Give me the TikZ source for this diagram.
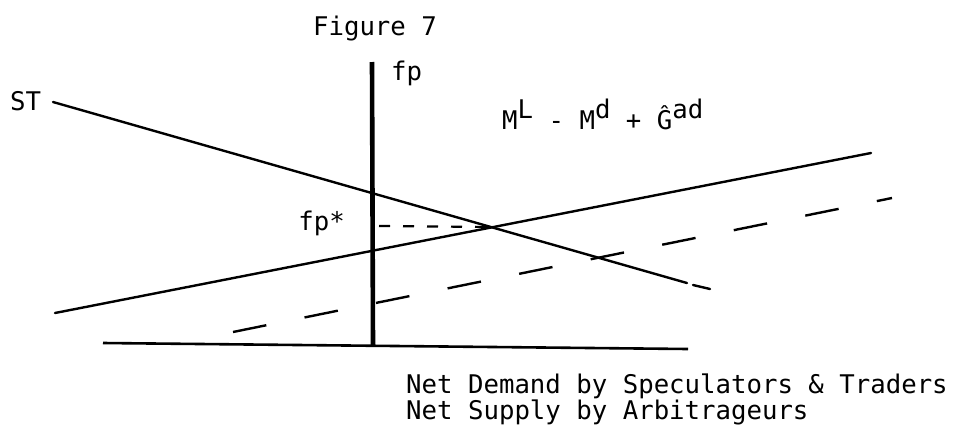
\documentclass[tikz,border=0pt]{standalone}
\usepackage{fontspec}
\setmonofont{DejaVu Sans Mono}
\usetikzlibrary{positioning}

\begin{document}
\begin{tikzpicture}[x=1pt,y=-1pt]
  \tikzset{
    curve/.style={line width=2.4pt, line cap=round},
    axisline/.style={line width=2.6pt},
    fpaxis/.style={line width=4.6pt},
    longdash/.style={line width=2.4pt, dash pattern=on 34pt off 39pt},
    shortdash/.style={line width=2.2pt, dash pattern=on 11pt off 13pt},
    lbl/.style={font=\ttfamily\fontsize{25.7}{26}\selectfont, inner sep=0pt, anchor=base west}
  }
  \useasboundingbox (0,0) rectangle (968,434);

  % Labels
  \node[lbl, anchor=base] (title) at (375,35) {Figure 7};
  \node[lbl] (fp) at (391,80) {fp};
  \node[lbl] (st) at (10,110) {ST};
  \node[lbl, anchor=base east] (fpstar) at (345,230) {fp*};
  \node[lbl] (mld) at (502,129) {M\raisebox{11pt}{L} - M\raisebox{11pt}{d} + \^{G}\raisebox{11pt}{ad}};
  \node[lbl] (demand) at (406,393) {Net Demand by Speculators \& Traders};
  \node[lbl, below=26pt of demand.base west, anchor=base west] (supply) {Net Supply by Arbitrageurs};

  % End points of the lines
  \coordinate (axtop) at (372,62);
  \coordinate (axbot) at (373,346);
  \coordinate (hzleft) at (103,343);
  \coordinate (hzright) at (688,349);
  \coordinate (stleft) at (53,102);
  \coordinate (stright) at (687,283);
  \coordinate (sttaila) at (693,285);
  \coordinate (sttailb) at (710,289);
  \coordinate (mleft) at (55,313);
  \coordinate (mright) at (871,153);
  \coordinate (dleft) at (233,332);
  \coordinate (dright) at (892,198);
  \coordinate (eq) at (493,227);
  \coordinate (fpdash) at (379,226);

  % Axes
  \draw[fpaxis] (axtop) -- (axbot);
  \draw[axisline] (hzleft) -- (hzright);

  % Curves
  \draw[curve] (stleft) -- (stright);
  \draw[curve] (sttaila) -- (sttailb);
  \draw[curve] (mleft) -- (mright);
  \draw[longdash] (dleft) -- (dright);
  \draw[shortdash] (fpdash) -- (eq);

\end{tikzpicture}
\end{document}
